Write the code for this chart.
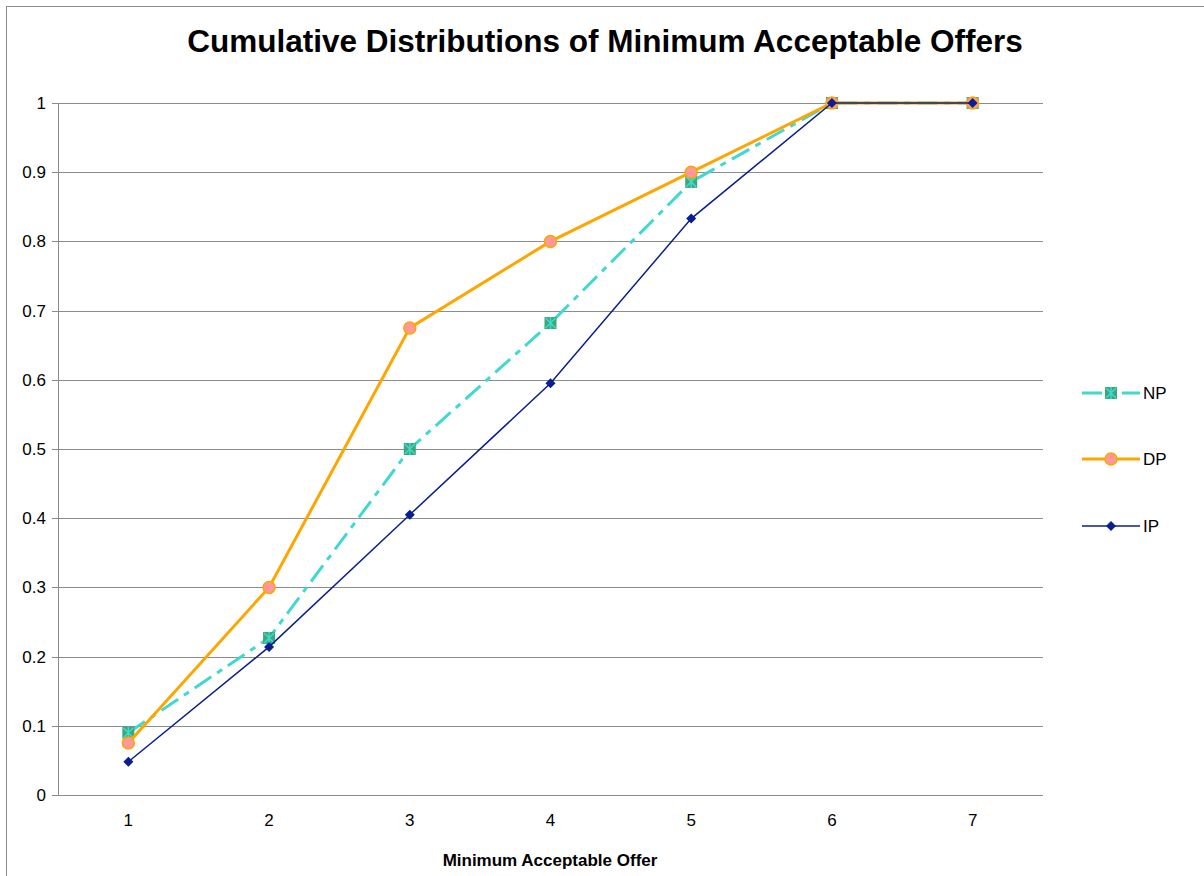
<!DOCTYPE html>
<html>
<head>
<meta charset="utf-8">
<script src="https://cdn.jsdelivr.net/npm/d3@7"></script>
<style>
  body { margin: 0; background: #fff; }
  svg { display: block; font-family: "Liberation Sans", Arial, sans-serif; }
</style>
</head>
<body>
<div id="chart"></div>
<script>
const categories = [1, 2, 3, 4, 5, 6, 7];
const npValues = [0.09, 0.227, 0.5, 0.682, 0.886, 1, 1];
const dpValues = [0.075, 0.3, 0.675, 0.8, 0.9, 1, 1];
const ipValues = [0.048, 0.214, 0.405, 0.595, 0.833, 1, 1];
const yTicks = [0, 0.1, 0.2, 0.3, 0.4, 0.5, 0.6, 0.7, 0.8, 0.9, 1];
const seriesNames = ['NP', 'DP', 'IP'];

const width = 1204;
const height = 876;
const plot = { left: 58, right: 1043, top: 103, bottom: 795 };

const svg = d3
  .select('#chart')
  .append('svg')
  .attr('width', width)
  .attr('height', height);

// outer chart frame
svg
  .append('rect')
  .attr('x', 6.5)
  .attr('y', 6.5)
  .attr('width', width + 10)
  .attr('height', height + 10)
  .attr('fill', 'none')
  .attr('stroke', '#8c8c8c')
  .attr('stroke-width', 1);

const x = d3
  .scaleBand()
  .domain(categories)
  .range([plot.left, plot.right]);

const y = d3
  .scaleLinear()
  .domain([0, 1])
  .range([plot.bottom, plot.top]);

// gridlines
svg
  .append('g')
  .selectAll('line')
  .data(yTicks)
  .enter()
  .append('line')
  .attr('x1', plot.left - 6)
  .attr('x2', plot.right)
  .attr('y1', (d) => Math.round(y(d)) + 0.5)
  .attr('y2', (d) => Math.round(y(d)) + 0.5)
  .attr('stroke', '#8c8c8c')
  .attr('stroke-width', 1);

// y axis line
svg
  .append('line')
  .attr('x1', plot.left + 0.5)
  .attr('x2', plot.left + 0.5)
  .attr('y1', plot.top)
  .attr('y2', plot.bottom)
  .attr('stroke', '#8c8c8c');

// y labels
svg
  .append('g')
  .selectAll('text')
  .data(yTicks)
  .enter()
  .append('text')
  .attr('x', plot.left - 12)
  .attr('y', (d) => y(d) + 6)
  .attr('text-anchor', 'end')
  .style('font-size', '17px')
  .attr('fill', '#000')
  .text((d) => +d.toFixed(1));

// x labels
svg
  .append('g')
  .selectAll('text')
  .data(categories)
  .enter()
  .append('text')
  .attr('x', (d) => x(d) + x.bandwidth() / 2)
  .attr('y', plot.bottom + 31)
  .attr('text-anchor', 'middle')
  .style('font-size', '17px')
  .text((d) => d);

// titles
svg
  .append('text')
  .attr('x', 605)
  .attr('y', 52)
  .attr('text-anchor', 'middle')
  .style('font-size', '31.5px')
  .style('font-weight', 'bold')
  .text('Cumulative Distributions of Minimum Acceptable Offers');

svg
  .append('text')
  .attr('x', 550)
  .attr('y', 866)
  .attr('text-anchor', 'middle')
  .style('font-size', '17px')
  .style('font-weight', 'bold')
  .text('Minimum Acceptable Offer');

const cx = (i) => x(categories[i]) + x.bandwidth() / 2;
const line = d3
  .line()
  .x((d, i) => cx(i))
  .y((d) => y(d));

const styles = {
  NP: { values: npValues, color: '#40d8d0', width: 3, dash: '20,7,6,7' },
  DP: { values: dpValues, color: '#ffa500', width: 3, dash: null },
  IP: { values: ipValues, color: '#0a1f8f', width: 1.5, dash: null },
};

function drawMarker(g, name, px, py) {
  if (name === 'NP') {
    g.append('rect')
      .attr('x', px - 6)
      .attr('y', py - 6)
      .attr('width', 12)
      .attr('height', 12)
      .attr('fill', '#3aa878');
    g.append('path')
      .attr('d', `M${px - 5},${py - 5}L${px + 5},${py + 5}M${px + 5},${py - 5}L${px - 5},${py + 5}M${px},${py - 6}L${px},${py + 6}`)
      .attr('stroke', '#40d8d0')
      .attr('stroke-width', 1.5);
  } else if (name === 'DP') {
    g.append('circle')
      .attr('cx', px)
      .attr('cy', py)
      .attr('r', 6)
      .attr('fill', '#ff9999')
      .attr('stroke', '#ffa500')
      .attr('stroke-width', 1.5);
  } else {
    g.append('path')
      .attr('d', `M${px},${py - 5}L${px + 5},${py}L${px},${py + 5}L${px - 5},${py}Z`)
      .attr('fill', '#0a1f8f');
  }
}

seriesNames.forEach((name) => {
  const s = styles[name];
  const g = svg.append('g');
  g.append('path')
    .datum(s.values)
    .attr('d', line)
    .attr('fill', 'none')
    .attr('stroke', s.color)
    .attr('stroke-width', s.width)
    .attr('stroke-dasharray', s.dash);
  s.values.forEach((v, i) => drawMarker(g, name, cx(i), y(v)));
});

// legend
const legendY = [393, 459, 526];
seriesNames.forEach((name, i) => {
  const s = styles[name];
  const g = svg.append('g');
  g.append('line')
    .attr('x1', 1082)
    .attr('x2', 1140)
    .attr('y1', legendY[i])
    .attr('y2', legendY[i])
    .attr('stroke', s.color)
    .attr('stroke-width', s.width)
    .attr('stroke-dasharray', s.dash);
  drawMarker(g, name, 1111, legendY[i]);
  g.append('text')
    .attr('x', 1143)
    .attr('y', legendY[i] + 6)
    .style('font-size', '17px')
    .text(name);
});
</script>
</body>
</html>
